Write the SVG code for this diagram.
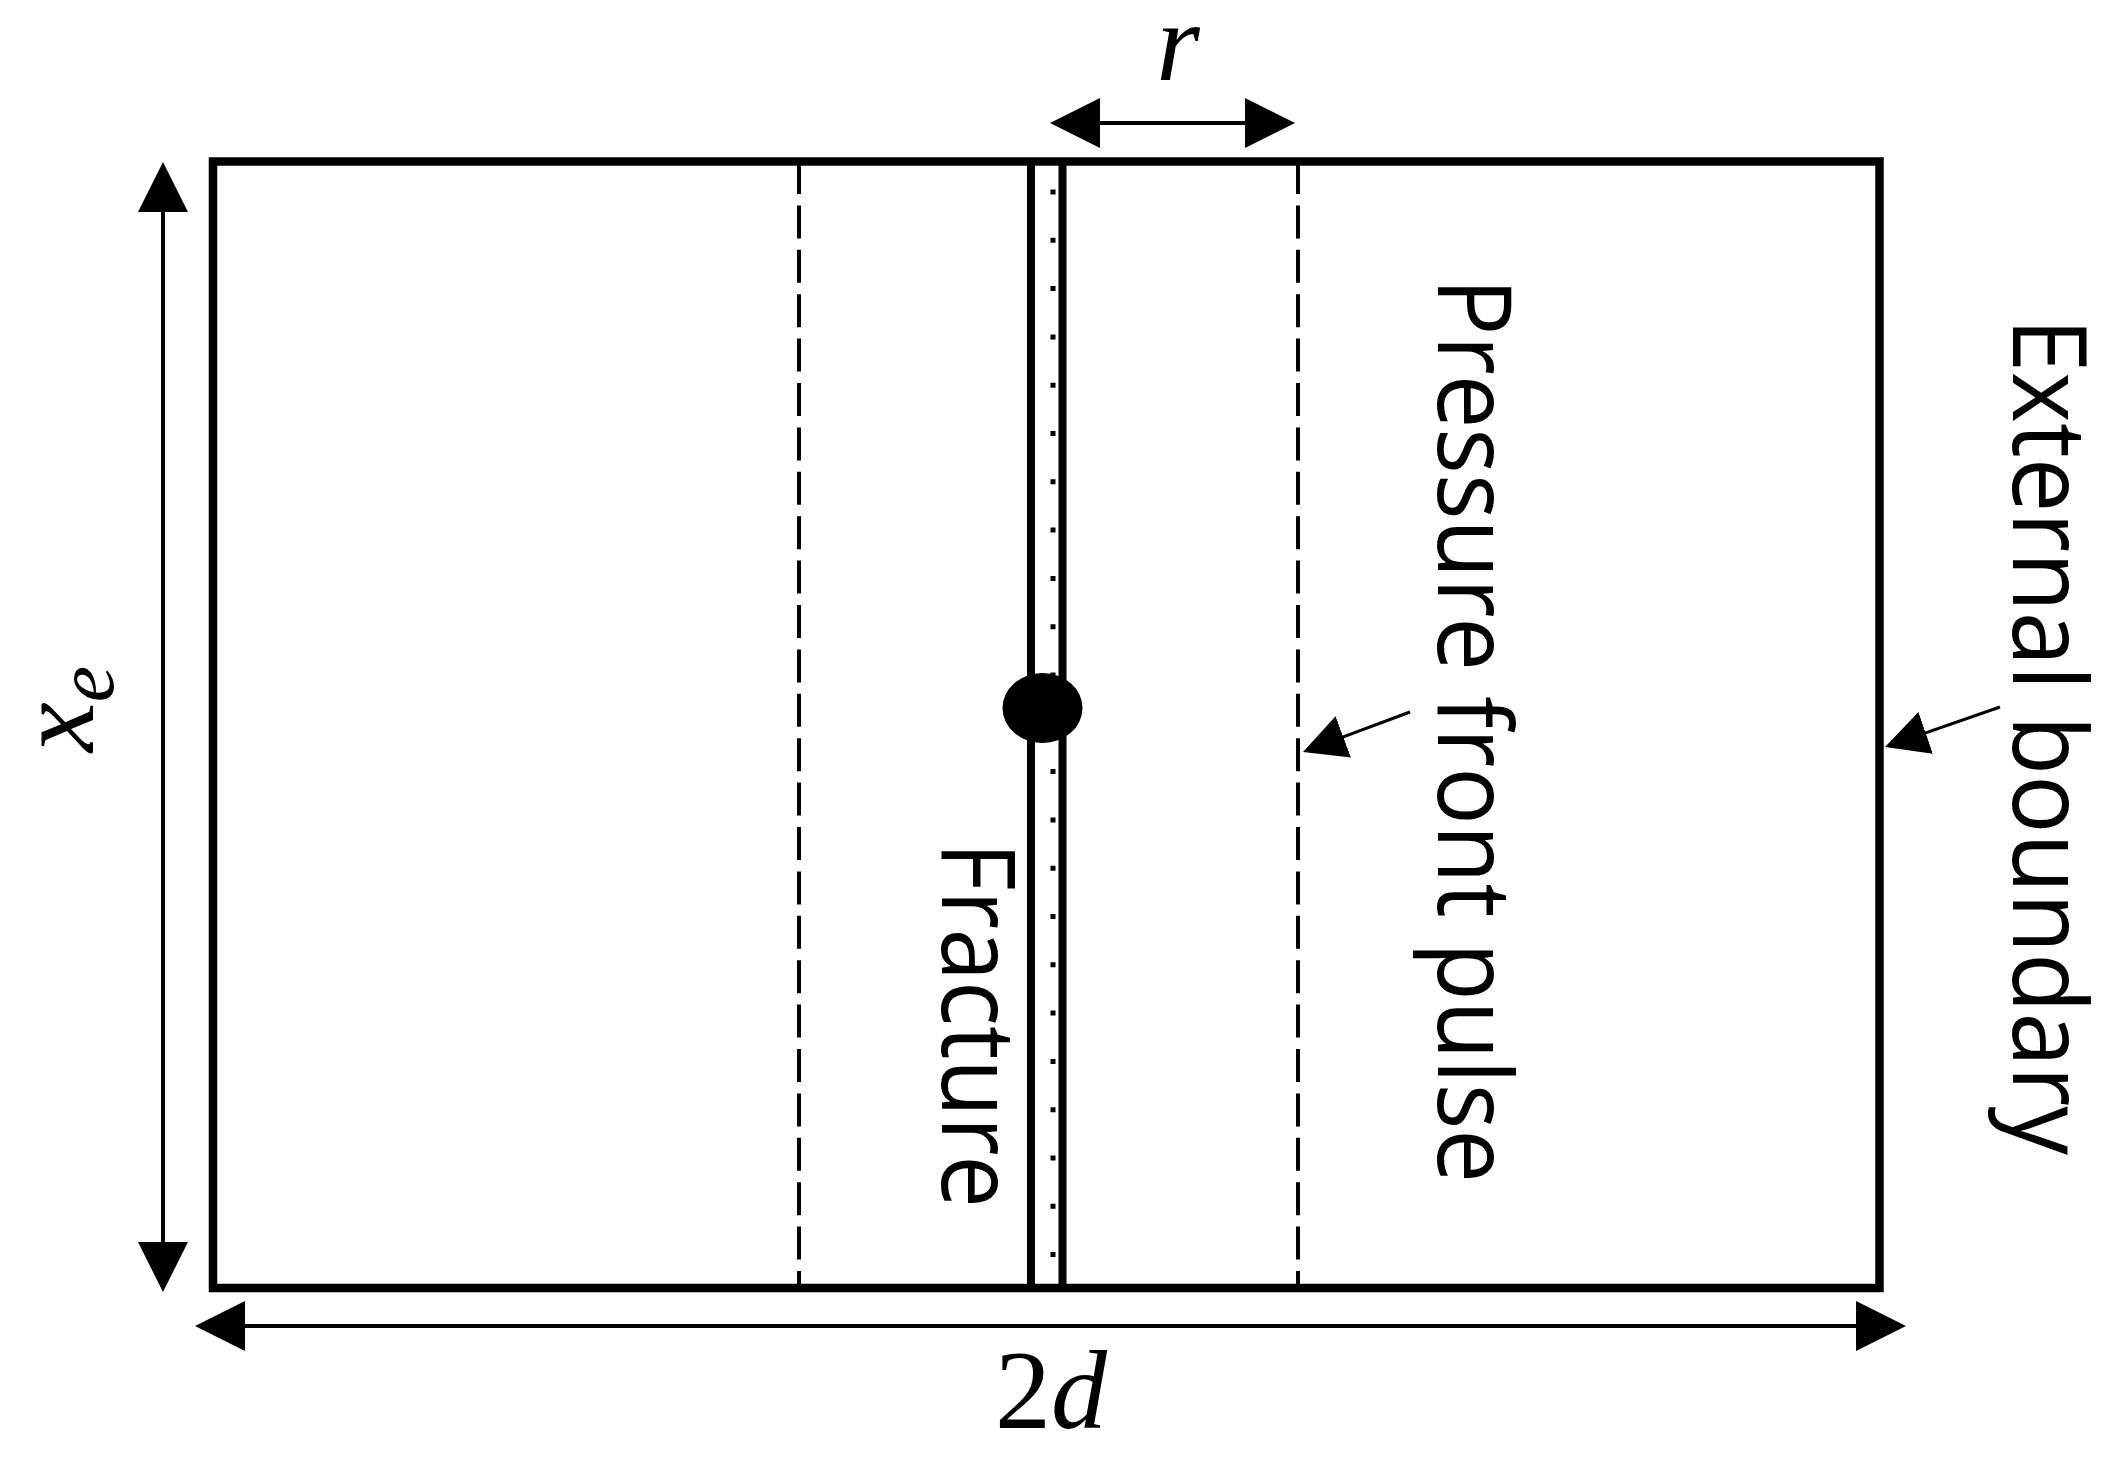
<svg xmlns="http://www.w3.org/2000/svg" width="2106" height="1457" viewBox="0 0 2106 1457">
<style>
.bord{fill:none;stroke:#000;stroke-width:8.5}
.frac{stroke:#000;stroke-width:8}
.dash{stroke:#000;stroke-width:4;stroke-dasharray:33 11.4}
.dots{stroke:#000;stroke-width:5;stroke-dasharray:5 43.3}
.dim{stroke:#000;stroke-width:4;fill:none}
.ptr{stroke:#000;stroke-width:3;fill:none}
.lbl{font-family:"Open Sans","Noto Sans","DejaVu Sans",sans-serif;font-size:102px;fill:#000}
.math{font-family:"Liberation Serif","Times New Roman",serif;font-style:italic;font-size:112px;fill:#000}
</style>
<defs>
<marker id="ah" markerUnits="userSpaceOnUse" markerWidth="50" markerHeight="50" viewBox="0 0 50 50" refX="40" refY="25" orient="auto-start-reverse"><path d="M0,0 L50,25 L0,50 z" fill="#000"/></marker>
<marker id="ap" markerUnits="userSpaceOnUse" markerWidth="44" markerHeight="44" viewBox="0 0 44 44" refX="35" refY="22" orient="auto"><path d="M0,0 L43,22 L0,44 z" fill="#000"/></marker>
</defs>
<rect x="0" y="0" width="2106" height="1457" fill="#fff"/>
<g id="reservoir">
<rect class="bord" x="213" y="161.5" width="1666.5" height="1126.5"/>
</g>
<g id="pressure-front-lines">
<line class="dash" x1="799" y1="161" x2="799" y2="1288"/>
<line class="dash" x1="1298" y1="161" x2="1298" y2="1288"/>
</g>
<g id="fracture">
<line class="frac" x1="1031" y1="161" x2="1031" y2="1288"/>
<line class="frac" x1="1062.5" y1="161" x2="1062.5" y2="1288"/>
<line class="dots" x1="1053" y1="189.5" x2="1053" y2="1288"/>
<ellipse cx="1042.5" cy="708" rx="40" ry="35" fill="#000"/>
</g>
<g id="connectors">
<line class="dim" x1="163" y1="172" x2="163" y2="1282" marker-start="url(#ah)" marker-end="url(#ah)"/>
<line class="dim" x1="205" y1="1326" x2="1896" y2="1326" marker-start="url(#ah)" marker-end="url(#ah)"/>
<line class="dim" x1="1060" y1="123" x2="1285" y2="123" marker-start="url(#ah)" marker-end="url(#ah)"/>
<line class="ptr" x1="1410" y1="712" x2="1310.5" y2="749.2" marker-end="url(#ap)"/>
<line class="ptr" x1="2000" y1="707" x2="1892.6" y2="744.4" marker-end="url(#ap)"/>
</g>
<g id="label-r"><text class="math" x="1178" y="80" text-anchor="middle">r</text></g>
<g id="label-2d"><text class="math" x="995" y="1428"><tspan font-style="normal">2</tspan>d</text></g>
<g id="label-xe"><text class="math" transform="translate(93,752) rotate(-90)">x<tspan font-size="82" dy="20">e</tspan></text></g>
<g id="label-fracture"><text class="lbl" transform="translate(942,842) rotate(90)" textLength="366" lengthAdjust="spacingAndGlyphs">Fracture</text></g>
<g id="label-pressure"><text class="lbl" transform="translate(1438,278) rotate(90)" textLength="905" lengthAdjust="spacingAndGlyphs">Pressure front pulse</text></g>
<g id="label-external"><text class="lbl" transform="translate(2013,318) rotate(90)" textLength="837" lengthAdjust="spacingAndGlyphs">External boundary</text></g>
</svg>
